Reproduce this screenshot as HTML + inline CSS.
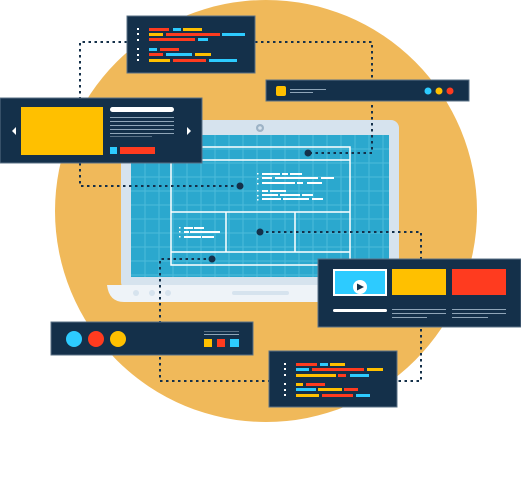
<!DOCTYPE html>
<html><head><meta charset="utf-8"><style>html,body{margin:0;padding:0;background:#fff}svg{display:block}</style></head>
<body>
<svg width="521" height="495" viewBox="0 0 521 495" xmlns="http://www.w3.org/2000/svg">
<circle cx="266" cy="211" r="211" fill="#F0B95A"/>
<!-- laptop -->
<rect x="121" y="120" width="278" height="170" rx="8" fill="#D6E3EE"/>
<circle cx="260" cy="128" r="4" fill="#9DB3C6"/><circle cx="260" cy="128" r="1.8" fill="#D6E3EE"/>
<rect x="131" y="135" width="258" height="142" fill="#2BA8CE"/>
<g stroke="#4DBBDB" stroke-width="1">
<path d="M145 135V277M159 135V277M173 135V277M187 135V277M201 135V277M215 135V277M229 135V277M243 135V277M257 135V277M271 135V277M285 135V277M299 135V277M313 135V277M327 135V277M341 135V277M355 135V277M369 135V277M383 135V277"/>
<path d="M131 149H389M131 163H389M131 177H389M131 191H389M131 205H389M131 219H389M131 233H389M131 247H389M131 261H389M131 275H389"/>
</g>
<g stroke="#fff" stroke-width="1.5" fill="none">
<rect x="171" y="147" width="179" height="118"/>
<path d="M171 160H350M171 212H350M171 252H350M226 212V252M295 212V252"/>
</g>
<g fill="#fff">
<rect x="257" y="173" width="1.5" height="1.5"/><rect x="257" y="178" width="1.5" height="1.5"/><rect x="257" y="183" width="1.5" height="1.5"/>
<rect x="257" y="190" width="1.5" height="1.5"/><rect x="257" y="195" width="1.5" height="1.5"/><rect x="257" y="199" width="1.5" height="1.5"/>
<rect x="262" y="173" width="18" height="2"/><rect x="282" y="173" width="6" height="2"/><rect x="290" y="173" width="12" height="2"/>
<rect x="262" y="177" width="10" height="2"/><rect x="275" y="177" width="43" height="2"/><rect x="321" y="177" width="13" height="2"/>
<rect x="262" y="182" width="33" height="2"/><rect x="297" y="182" width="6" height="2"/><rect x="307" y="182" width="15" height="2"/>
<rect x="262" y="190" width="6" height="2"/><rect x="270" y="190" width="16" height="2"/>
<rect x="262" y="194" width="16" height="2"/><rect x="280" y="194" width="20" height="2"/><rect x="302" y="194" width="11" height="2"/>
<rect x="262" y="198" width="19" height="2"/><rect x="283" y="198" width="26" height="2"/><rect x="312" y="198" width="11" height="2"/>
<rect x="179" y="227" width="1.5" height="1.5"/><rect x="179" y="231" width="1.5" height="1.5"/><rect x="179" y="236" width="1.5" height="1.5"/>
<rect x="184" y="227" width="9" height="2"/><rect x="194" y="227" width="10" height="2"/>
<rect x="184" y="231" width="5" height="2"/><rect x="190" y="231" width="30" height="2"/>
<rect x="184" y="236" width="17" height="2"/><rect x="202" y="236" width="12" height="2"/>
</g>
<path d="M107 285H415Q413 302 396 302H124Q109 302 107 285Z" fill="#EEF3F8"/>
<circle cx="136" cy="293" r="3" fill="#D6E3EE"/><circle cx="152" cy="293" r="3" fill="#D6E3EE"/><circle cx="168" cy="293" r="3" fill="#D6E3EE"/>
<rect x="232" y="291" width="57" height="4" rx="2" fill="#D6E3EE"/>
<!-- dotted connectors -->
<g stroke="#14304A" stroke-width="2" stroke-dasharray="2.5 3.5" fill="none">
<path d="M127 42H80V186H240"/>
<path d="M255 42H372V153H308"/>
<path d="M260 232H421V381H397"/>
<path d="M212 259H160V381H269"/>
</g>
<g fill="#14304A"><circle cx="240" cy="186" r="3.5"/><circle cx="308" cy="153" r="3.5"/><circle cx="260" cy="232" r="3.5"/><circle cx="212" cy="259" r="3.5"/></g>
<!-- top code panel -->
<rect x="127" y="16" width="128" height="57" fill="#14304A" stroke="#5A7186" stroke-width="1"/>
<g fill="#fff"><rect x="137" y="28" width="2" height="2"/><rect x="137" y="33" width="2" height="2"/><rect x="137" y="39" width="2" height="2"/><rect x="137" y="48" width="2" height="2"/><rect x="137" y="54" width="2" height="2"/><rect x="137" y="59" width="2" height="2"/></g>
<g>
<rect x="149" y="28" width="20" height="3" fill="#FF3B1F"/><rect x="173" y="28" width="8" height="3" fill="#2DCBFF"/><rect x="183" y="28" width="19" height="3" fill="#FFC000"/>
<rect x="149" y="33" width="14" height="3" fill="#FFC000"/><rect x="166" y="33" width="54" height="3" fill="#FF3B1F"/><rect x="222" y="33" width="23" height="3" fill="#2DCBFF"/>
<rect x="149" y="38" width="46" height="3" fill="#FF3B1F"/><rect x="198" y="38" width="10" height="3" fill="#2DCBFF"/>
<rect x="149" y="48" width="8" height="3" fill="#2DCBFF"/><rect x="160" y="48" width="19" height="3" fill="#FF3B1F"/>
<rect x="149" y="53" width="14" height="3" fill="#FF3B1F"/><rect x="166" y="53" width="26" height="3" fill="#2DCBFF"/><rect x="195" y="53" width="16" height="3" fill="#FFC000"/>
<rect x="149" y="59" width="21" height="3" fill="#FFC000"/><rect x="173" y="59" width="33" height="3" fill="#FF3B1F"/><rect x="209" y="59" width="28" height="3" fill="#2DCBFF"/>
</g>
<!-- left slider -->
<rect x="0" y="98" width="202" height="65" fill="#14304A" stroke="#5A7186" stroke-width="1"/>
<rect x="21" y="107" width="82" height="48" fill="#FFC000"/>
<path d="M16 127L12 131L16 135Z M187 127L191 131L187 135Z" fill="#fff"/>
<rect x="110" y="107" width="64" height="5" rx="2.5" fill="#fff"/>
<g fill="#8FA5B8"><rect x="110" y="117" width="64" height="1"/><rect x="110" y="121" width="64" height="1"/><rect x="110" y="125" width="64" height="1"/><rect x="110" y="129" width="64" height="1"/><rect x="110" y="133" width="64" height="1"/><rect x="110" y="136" width="42" height="1" fill="#5A7186"/></g>
<rect x="110" y="147" width="7" height="7" fill="#2DCBFF"/><rect x="120" y="147" width="35" height="7" fill="#FF3B1F"/>
<!-- top right bar -->
<rect x="266" y="80" width="203" height="21" fill="#14304A" stroke="#5A7186" stroke-width="1"/>
<rect x="276" y="86" width="10" height="10" rx="2" fill="#FFC000"/>
<rect x="290" y="89" width="36" height="1" fill="#8FA5B8"/><rect x="290" y="92" width="23" height="1" fill="#8FA5B8"/>
<circle cx="428" cy="91" r="3.5" fill="#2DCBFF"/><circle cx="439" cy="91" r="3.5" fill="#FFC000"/><circle cx="450" cy="91" r="3.5" fill="#FF3B1F"/>
<!-- video panel -->
<rect x="318" y="259" width="203" height="68" fill="#14304A" stroke="#5A7186" stroke-width="1"/>
<rect x="334" y="270" width="52" height="25" fill="#2DCBFF" stroke="#fff" stroke-width="2"/>
<circle cx="360" cy="287" r="7" fill="#fff"/><path d="M357 283.5L364 287L357 290.5Z" fill="#14304A"/>
<rect x="392" y="269" width="54" height="26" fill="#FFC000"/>
<rect x="452" y="269" width="54" height="26" fill="#FF3B1F"/>
<rect x="333" y="309" width="54" height="3" rx="1.5" fill="#fff"/>
<g fill="#8FA5B8"><rect x="392" y="309" width="54" height="1"/><rect x="392" y="313" width="54" height="1"/><rect x="392" y="317" width="35" height="1"/><rect x="452" y="309" width="54" height="1"/><rect x="452" y="313" width="54" height="1"/><rect x="452" y="317" width="36" height="1"/></g>
<!-- bottom left bar -->
<rect x="51" y="322" width="202" height="33" fill="#14304A" stroke="#5A7186" stroke-width="1"/>
<circle cx="74" cy="339" r="8" fill="#2DCBFF"/><circle cx="96" cy="339" r="8" fill="#FF3B1F"/><circle cx="118" cy="339" r="8" fill="#FFC000"/>
<rect x="204" y="331" width="35" height="1" fill="#5A7186"/><rect x="204" y="334" width="35" height="1" fill="#8FA5B8"/>
<rect x="204" y="339" width="8" height="8" fill="#FFC000"/><rect x="217" y="339" width="8" height="8" fill="#FF3B1F"/><rect x="230" y="339" width="9" height="8" fill="#2DCBFF"/>
<!-- bottom code panel -->
<rect x="269" y="351" width="128" height="56" fill="#14304A" stroke="#5A7186" stroke-width="1"/>
<g fill="#fff"><rect x="284" y="363" width="2" height="2"/><rect x="284" y="368" width="2" height="2"/><rect x="284" y="374" width="2" height="2"/><rect x="284" y="383" width="2" height="2"/><rect x="284" y="389" width="2" height="2"/><rect x="284" y="394" width="2" height="2"/></g>
<g>
<rect x="296" y="363" width="21" height="3" fill="#FF3B1F"/><rect x="320" y="363" width="8" height="3" fill="#2DCBFF"/><rect x="330" y="363" width="15" height="3" fill="#FFC000"/>
<rect x="296" y="368" width="13" height="3" fill="#2DCBFF"/><rect x="312" y="368" width="52" height="3" fill="#FF3B1F"/><rect x="367" y="368" width="16" height="3" fill="#FFC000"/>
<rect x="296" y="374" width="40" height="3" fill="#FFC000"/><rect x="338" y="374" width="8" height="3" fill="#FF3B1F"/><rect x="350" y="374" width="19" height="3" fill="#2DCBFF"/>
<rect x="296" y="383" width="7" height="3" fill="#FFC000"/><rect x="306" y="383" width="19" height="3" fill="#FF3B1F"/>
<rect x="296" y="388" width="20" height="3" fill="#2DCBFF"/><rect x="318" y="388" width="24" height="3" fill="#FFC000"/><rect x="344" y="388" width="14" height="3" fill="#FF3B1F"/>
<rect x="296" y="394" width="23" height="3" fill="#FFC000"/><rect x="322" y="394" width="31" height="3" fill="#FF3B1F"/><rect x="356" y="394" width="14" height="3" fill="#2DCBFF"/>
</g>
</svg>
</body></html>
